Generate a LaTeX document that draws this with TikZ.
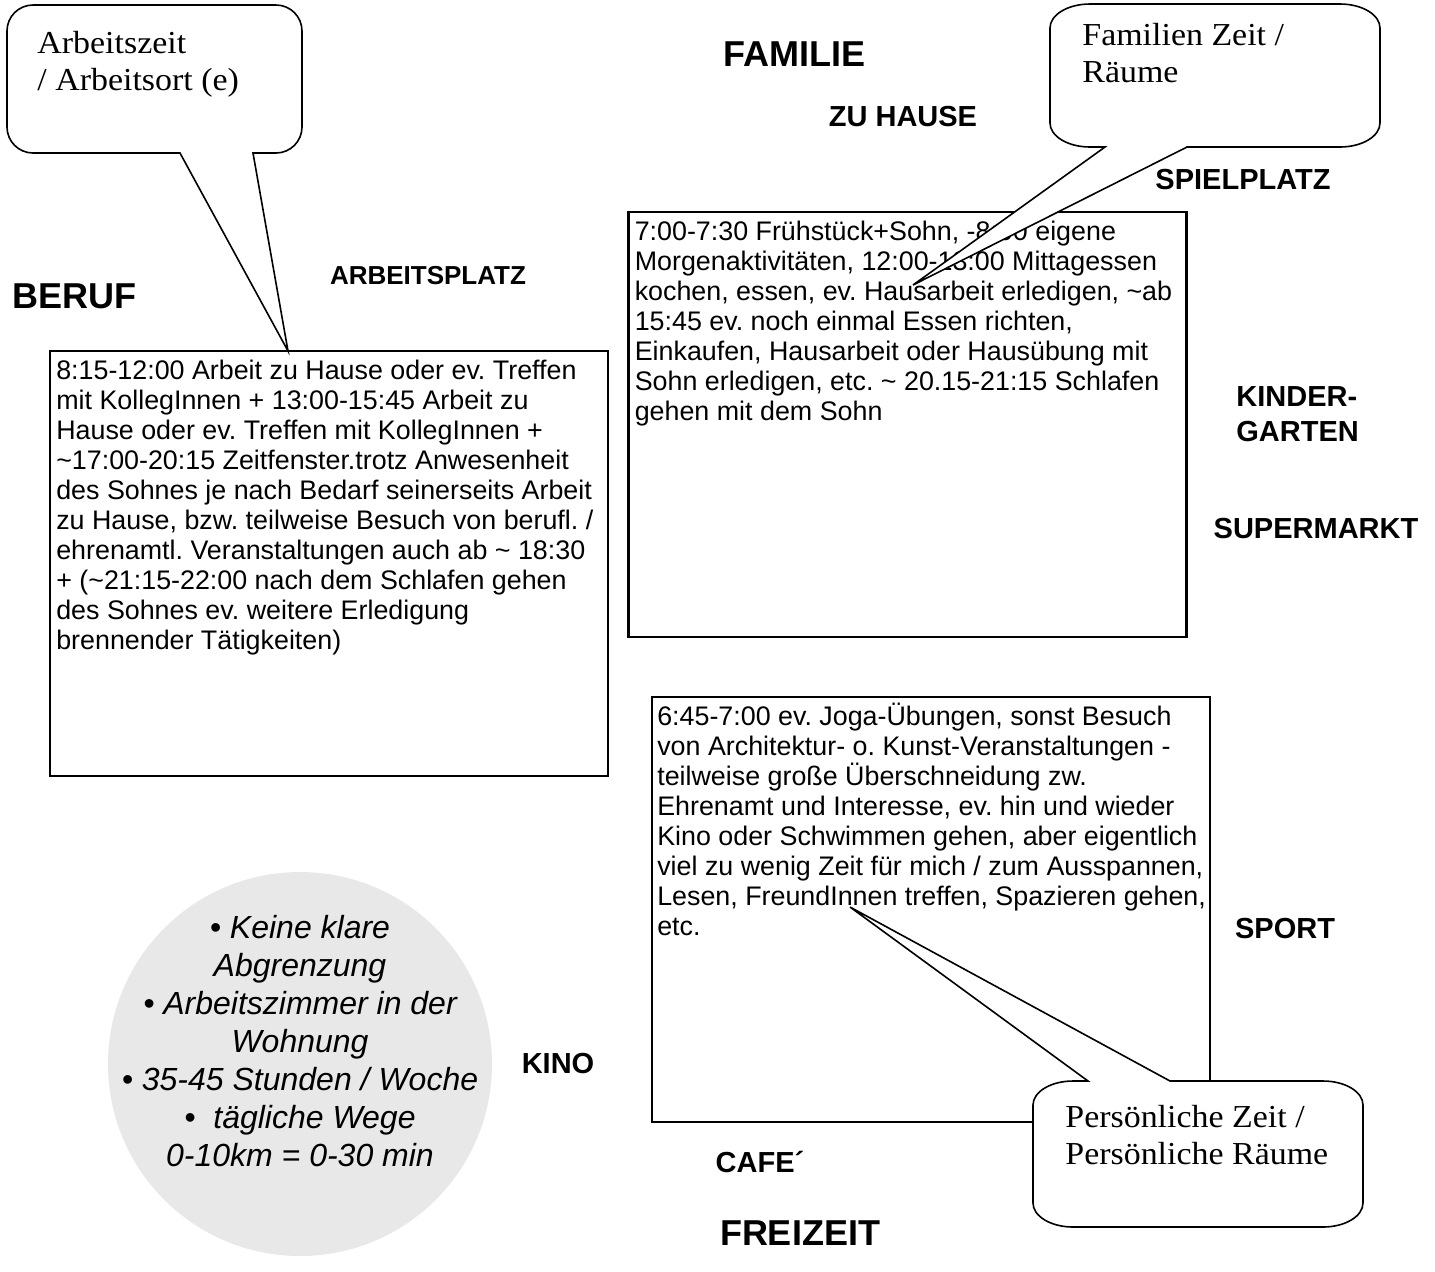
\documentclass[tikz,border=0pt]{standalone}
\usepackage{fontspec}
\setmainfont{Liberation Sans}
\newfontfamily\callfont[FakeStretch=1.06]{Liberation Serif}
\definecolor{circlegray}{RGB}{231,232,231}
\newcommand\tld{\textasciitilde}
\newcommand\firststrut{\rule{0pt}{0.95em}}
\frenchspacing

\begin{document}
\begin{tikzpicture}[x=0.5pt,y=-0.5pt,
  bigtitle/.style={font=\fontsize{18}{21}\selectfont\bfseries, inner sep=0pt},
  place/.style={font=\fontsize{14.5}{17.5}\selectfont\bfseries, inner sep=0pt, align=left},
  timebox/.style={draw, line width=1.1pt, minimum width=279pt, minimum height=212.5pt, inner sep=0pt},
  boxtext/.style={anchor=north west, inner sep=0pt, align=left, font=\fontsize{13.42}{15}\selectfont},
  callout/.style={draw, fill=white, line width=0.8pt, line join=miter},
  calltext/.style={anchor=north west, inner sep=0pt, align=left, font=\callfont\fontsize{16}{18.5}\selectfont},
  notes/.style={inner sep=0pt, align=center, font=\fontsize{16}{19}\selectfont\itshape}
]
\useasboundingbox (0,0) rectangle (1435,1271);

% the three time boxes
\node[timebox] (beruf) at (329,563.5) {};
\node[timebox] (familie) at (907.5,424.5) {};
\node[timebox] (freizeit) at (931,909.5) {};

\node[boxtext] (berufText) at ([shift={(7,4)}]beruf.north west) {\firststrut
8:15-12:00 Arbeit zu Hause oder ev. Treffen\\
mit KollegInnen + 13:00-15:45 Arbeit zu\\
Hause oder ev. Treffen mit KollegInnen +\\
\tld17:00-20:15 Zeitfenster.trotz Anwesenheit\\
des Sohnes je nach Bedarf seinerseits Arbeit\\
zu Hause, bzw. teilweise Besuch von berufl. /\\
ehrenamtl. Veranstaltungen auch ab \tld{} 18:30\\
+ (\tld21:15-22:00 nach dem Schlafen gehen\\
des Sohnes ev. weitere Erledigung\\
brennender Tätigkeiten)};

\node[boxtext] (familieText) at ([shift={(7,4)}]familie.north west) {\firststrut
7:00-7:30 Frühstück+Sohn, -8:00 eigene\\
Morgenaktivitäten, 12:00-13:00 Mittagessen\\
kochen, essen, ev. Hausarbeit erledigen, \tld ab\\
15:45 ev. noch einmal Essen richten,\\
Einkaufen, Hausarbeit oder Hausübung mit\\
Sohn erledigen, etc. \tld{} 20.15-21:15 Schlafen\\
gehen mit dem Sohn};

\node[boxtext] (freizeitText) at ([shift={(6,4)}]freizeit.north west) {\firststrut
6:45-7:00 ev. Joga-Übungen, sonst Besuch\\
von Architektur- o. Kunst-Veranstaltungen -\\
teilweise große Überschneidung zw.\\
Ehrenamt und Interesse, ev. hin und wieder\\
Kino oder Schwimmen gehen, aber eigentlich\\
viel zu wenig Zeit für mich / zum Ausspannen,\\
Lesen, FreundInnen treffen, Spazieren gehen,\\
etc.};

% grey disc with notes
\node[circle, fill=circlegray, minimum size=192pt, inner sep=0pt] (disc) at (300,1064) {};
\node[notes] (discText) at (300,1041) {%
• Keine klare\\
Abgrenzung\\
• Arbeitszimmer in der\\
Wohnung\\
• 35-45 Stunden / Woche\\
•\ \ tägliche Wege\\
0-10km = 0-30 min};

% headings
\node[bigtitle, anchor=west] (tBeruf) at (12,296) {BERUF};
\node[bigtitle] (tFamilie) at (794,54) {FAMILIE};
\node[bigtitle] (tFreizeit) at (800,1233) {FREIZEIT};

% places
\node[place, font=\fontsize{13}{16}\selectfont\bfseries] (pArbeit) at (428,276) {ARBEITSPLATZ};
\node[place] (pHaus) at (903,117) {ZU HAUSE};
\node[place] (pSpiel) at (1243,180) {SPIELPLATZ};
\node[place, anchor=north west] (pKiga) at (1236,386) {KINDER-\\GARTEN};
\node[place] (pMarkt) at (1316,529) {SUPERMARKT};
\node[place] (pSport) at (1285,928) {SPORT};
\node[place] (pKino) at (558,1063) {KINO};
\node[place] (pCafe) at (760,1162) {CAFE´};

% speech bubbles
\draw[callout] (288,351) -- (180,153) -- (33,153)
  arc[start angle=270, end angle=180, radius=13pt] -- (7,31)
  arc[start angle=180, end angle=90, radius=13pt] -- (276,5)
  arc[start angle=90, end angle=0, radius=13pt] -- (302,127)
  arc[start angle=0, end angle=-90, radius=13pt] -- (253,153) -- cycle;
\node[calltext] (cArbeit) at (37,22.6) {\firststrut Arbeitszeit\\/ Arbeitsort (e)};

\draw[callout] (913,285) -- (1105,147) -- (1090,147)
  arc[start angle=270, end angle=180, x radius=20pt, y radius=12pt] -- (1050,28)
  arc[start angle=180, end angle=90, x radius=20pt, y radius=12pt] -- (1340,4)
  arc[start angle=90, end angle=0, x radius=20pt, y radius=12pt] -- (1380,123)
  arc[start angle=0, end angle=-90, x radius=20pt, y radius=12pt] -- (1187,147) -- cycle;
\node[calltext] (cFamilie) at (1082,14.6) {\firststrut Familien Zeit /\\Räume};

\draw[callout] (850,907) -- (1170,1081) -- (1323,1081)
  arc[start angle=90, end angle=0, x radius=20pt, y radius=12pt] -- (1363,1203)
  arc[start angle=0, end angle=-90, x radius=20pt, y radius=12pt] -- (1073,1227)
  arc[start angle=-90, end angle=-180, x radius=20pt, y radius=12pt] -- (1033,1105)
  arc[start angle=180, end angle=90, x radius=20pt, y radius=12pt] -- (1088,1081) -- cycle;
\node[calltext] (cFrei) at (1065,1096.6) {\firststrut Persönliche Zeit /\\Persönliche Räume};

\end{tikzpicture}
\end{document}
